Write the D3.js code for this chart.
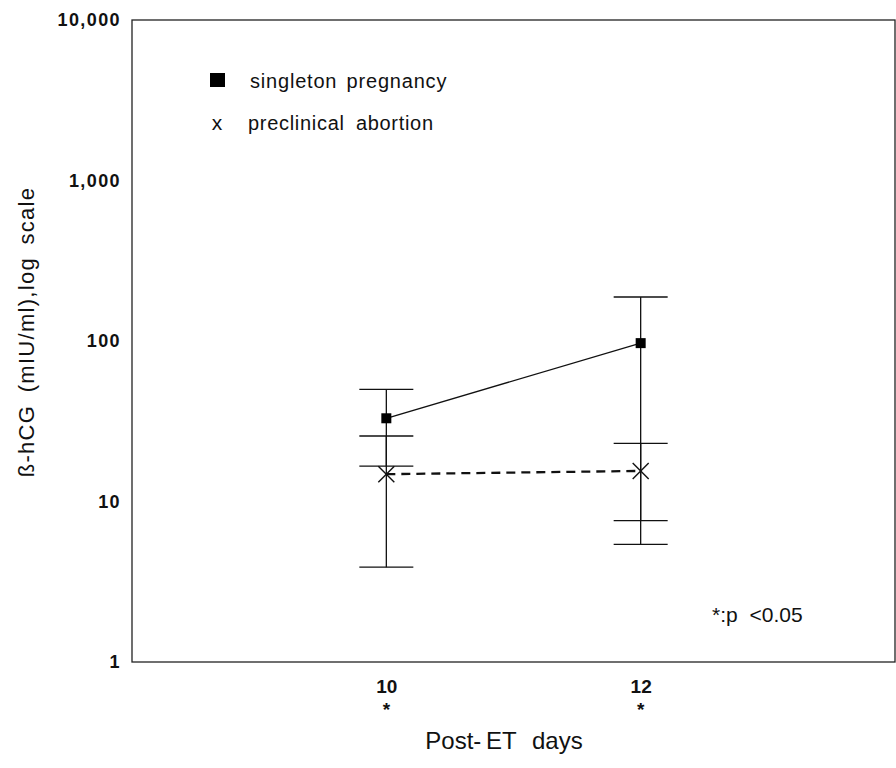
<!DOCTYPE html>
<html lang="en">
<head>
    <meta charset="UTF-8">
    <title>beta-hCG after ET</title>
    <script src="https://d3js.org/d3.v7.min.js"></script>
    <style>
        body { margin: 0; background: #fff; }
        svg { display: block; font-family: "Liberation Sans", Arial, Helvetica, sans-serif; }
    </style>
</head>
<body>
    <div id="chart"></div>
    <script>
        // data
        const days = [10, 12];
        const singletonMean = [33, 97];
        const singletonUpper = [50, 188];
        const singletonLower = [16.6, 5.4];
        const abortionMean = [14.8, 15.5];
        const abortionUpper = [25.6, 23];
        const abortionLower = [3.9, 7.6];
        const yTicks = [1, 10, 100, 1000, 10000];
        const xTicks = [10, 12];

        const width = 896, height = 768;
        const frame = { left: 132, right: 895, top: 20, bottom: 662 };

        const svg = d3.select("#chart").append("svg")
            .attr("width", width)
            .attr("height", height);

        const x = d3.scaleLinear().domain([8, 14]).range([frame.left, frame.right]);
        const y = d3.scaleLog().domain([1, 10000]).range([frame.bottom, frame.top]);

        // frame
        svg.append("rect")
            .attr("x", frame.left).attr("y", frame.top)
            .attr("width", frame.right - frame.left)
            .attr("height", frame.bottom - frame.top)
            .attr("fill", "none")
            .attr("stroke", "#222")
            .attr("stroke-width", 1.3);

        // y axis labels
        const yAxis = svg.append("g")
            .attr("transform", `translate(${frame.left},0)`)
            .call(d3.axisLeft(y).tickValues(yTicks).tickFormat(d3.format(",")).tickSize(0).tickPadding(11));
        yAxis.select(".domain").remove();
        yAxis.selectAll("text")
            .attr("font-size", 18)
            .attr("font-weight", "bold")
            .attr("letter-spacing", 1.4)
            .attr("fill", "#111")
            .attr("font-family", "'Liberation Sans', Arial, sans-serif");

        // x axis labels
        const xAxis = svg.append("g")
            .attr("transform", `translate(0,${frame.bottom})`)
            .call(d3.axisBottom(x).tickValues(xTicks).tickFormat(d3.format("d")).tickSize(0).tickPadding(18));
        xAxis.select(".domain").remove();
        xAxis.selectAll("text")
            .attr("font-size", 19)
            .attr("font-weight", "bold")
            .attr("fill", "#111")
            .attr("font-family", "'Liberation Sans', Arial, sans-serif");

        // significance stars under the day labels
        svg.selectAll("text.star")
            .data(days)
            .join("text")
            .attr("class", "star")
            .attr("x", d => x(d))
            .attr("y", 716)
            .attr("text-anchor", "middle")
            .attr("font-size", 19)
            .attr("font-weight", "bold")
            .attr("fill", "#111")
            .text("*");

        // axis titles
        svg.append("text")
            .attr("x", 504)
            .attr("y", 749)
            .attr("text-anchor", "middle")
            .attr("font-size", 24)
            .attr("fill", "#111")
            .attr("word-spacing", 9)
            .text("Post-\u2009ET days");

        svg.append("text")
            .attr("transform", "translate(34,332) rotate(-90)")
            .attr("text-anchor", "middle")
            .attr("font-size", 22)
            .attr("letter-spacing", 1.3)
            .attr("word-spacing", 5)
            .attr("fill", "#111")
            .text("\u00DF-hCG (mIU/ml),log scale");

        // error bars
        const capHalf = 27;
        const bars = [];
        days.forEach((d, i) => {
            bars.push({ day: d, lo: singletonLower[i], hi: singletonUpper[i] });
            bars.push({ day: d, lo: abortionLower[i], hi: abortionUpper[i] });
        });

        const errG = svg.append("g").attr("stroke", "#111").attr("stroke-width", 1.3);
        errG.selectAll("line.stem")
            .data(bars)
            .join("line")
            .attr("x1", d => x(d.day)).attr("x2", d => x(d.day))
            .attr("y1", d => y(d.lo)).attr("y2", d => y(d.hi));
        const caps = bars.flatMap(b => [{ day: b.day, v: b.lo }, { day: b.day, v: b.hi }]);
        errG.selectAll("line.cap")
            .data(caps)
            .join("line")
            .attr("x1", d => x(d.day) - capHalf).attr("x2", d => x(d.day) + capHalf)
            .attr("y1", d => y(d.v)).attr("y2", d => y(d.v));

        // singleton pregnancy line + squares
        const singleton = days.map((d, i) => ({ day: d, v: singletonMean[i] }));
        const abortion = days.map((d, i) => ({ day: d, v: abortionMean[i] }));
        const line = d3.line().x(d => x(d.day)).y(d => y(d.v));

        svg.append("path")
            .datum(singleton)
            .attr("d", line)
            .attr("fill", "none")
            .attr("stroke", "#111")
            .attr("stroke-width", 1.3);

        svg.append("path")
            .datum(abortion)
            .attr("d", line)
            .attr("fill", "none")
            .attr("stroke", "#111")
            .attr("stroke-width", 2.3)
            .attr("stroke-dasharray", "9,6");

        svg.selectAll("rect.sq")
            .data(singleton)
            .join("rect")
            .attr("class", "sq")
            .attr("x", d => x(d.day) - 5)
            .attr("y", d => y(d.v) - 5)
            .attr("width", 10).attr("height", 10)
            .attr("fill", "#000");

        // abortion markers: diagonal cross
        const crossG = svg.append("g").attr("stroke", "#111").attr("stroke-width", 1.4);
        abortion.forEach(d => {
            const cx = x(d.day), cy = y(d.v), r = 8;
            crossG.append("line").attr("x1", cx - r).attr("y1", cy - r).attr("x2", cx + r).attr("y2", cy + r);
            crossG.append("line").attr("x1", cx - r).attr("y1", cy + r).attr("x2", cx + r).attr("y2", cy - r);
        });

        // legend
        svg.append("rect")
            .attr("x", 210).attr("y", 73)
            .attr("width", 15).attr("height", 14)
            .attr("fill", "#000");
        svg.append("text")
            .attr("x", 250).attr("y", 88)
            .attr("font-size", 20)
            .attr("letter-spacing", 0.8)
            .attr("word-spacing", 3)
            .attr("fill", "#111")
            .text("singleton pregnancy");
        svg.append("text")
            .attr("x", 217).attr("y", 130)
            .attr("text-anchor", "middle")
            .attr("font-size", 21)
            .attr("fill", "#111")
            .text("x");
        svg.append("text")
            .attr("x", 248).attr("y", 130)
            .attr("font-size", 20)
            .attr("letter-spacing", 0.7)
            .attr("word-spacing", 5)
            .attr("fill", "#111")
            .text("preclinical abortion");

        // significance note
        svg.append("text")
            .attr("x", 712).attr("y", 622)
            .attr("font-size", 21)
            .attr("word-spacing", 6)
            .attr("fill", "#111")
            .text("*:p <0.05");
    </script>
</body>
</html>
